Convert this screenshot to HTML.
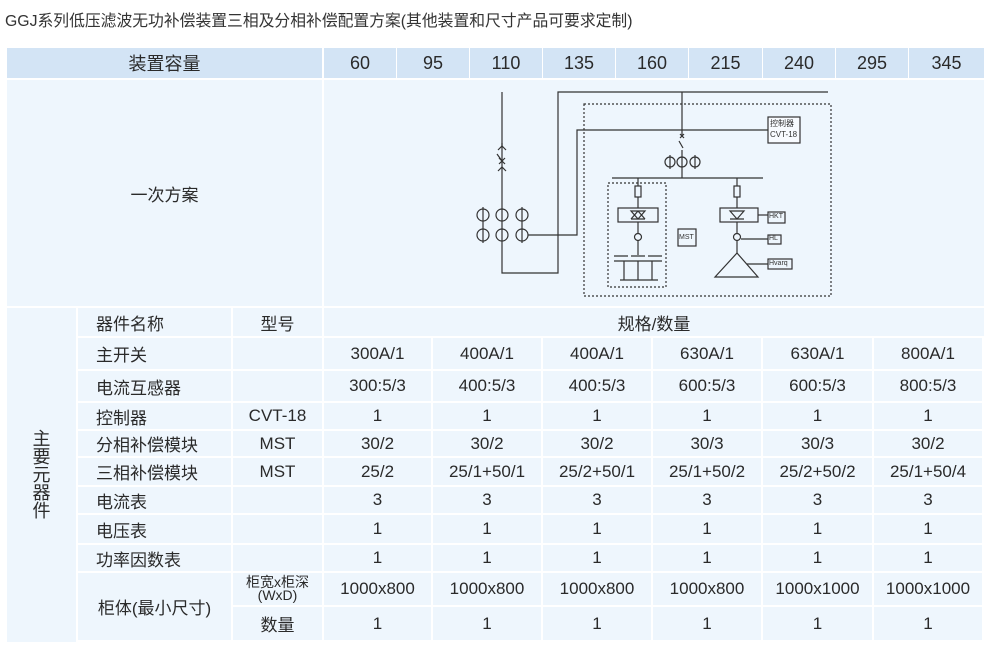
<!DOCTYPE html>
<html><head><meta charset="utf-8"><style>
body{margin:0;width:1000px;height:652px;background:#fff;position:relative;overflow:hidden;font-family:"Liberation Sans","Noto Sans CJK SC",sans-serif;color:#2a2a2a}
.c{position:absolute;background:#eef6fd;display:flex;align-items:center;justify-content:center;font-size:17px;box-sizing:border-box;white-space:nowrap}
.h{background:#d3e4f5;font-size:18px}
.l{justify-content:flex-start;padding-left:18px}
</style></head><body>
<div style="position:absolute;left:5px;top:8px;font-size:15.8px;color:#333">GGJ系列低压滤波无功补偿装置三相及分相补偿配置方案(其他装置和尺寸产品可要求定制)</div>

<div class="c h" style="left:7px;top:48px;width:315px;height:30px">装置容量</div>
<div class="c h" style="left:324px;top:48px;width:72px;height:30px">60</div>
<div class="c h" style="left:397px;top:48px;width:72px;height:30px">95</div>
<div class="c h" style="left:470px;top:48px;width:72px;height:30px">110</div>
<div class="c h" style="left:543px;top:48px;width:72px;height:30px">135</div>
<div class="c h" style="left:616px;top:48px;width:72px;height:30px">160</div>
<div class="c h" style="left:689px;top:48px;width:73px;height:30px">215</div>
<div class="c h" style="left:763px;top:48px;width:72px;height:30px">240</div>
<div class="c h" style="left:836px;top:48px;width:72px;height:30px">295</div>
<div class="c h" style="left:909px;top:48px;width:75px;height:30px">345</div>

<div class="c" style="left:7px;top:80px;width:315px;height:226px">一次方案</div>
<div class="c" style="left:324px;top:80px;width:660px;height:226px"></div>

<div class="c" style="left:7px;top:308px;width:69px;height:334px;flex-direction:column;line-height:18px;font-size:18px">主<br>要<br>元<br>器<br>件</div>
<div id="rows"></div>

<svg style="position:absolute;left:0;top:0" width="1000" height="652" fill="none" stroke="#333" stroke-width="1.2">
<polyline points="502,92 502,273 558,273 558,92 828,92"/>
<line x1="502" y1="143" x2="502" y2="147"/>
<path d="M498,150 L502,146 L506,150 M498,171 L502,167 L506,171"/>
<line x1="499" y1="158" x2="505" y2="164"/><line x1="505" y1="158" x2="499" y2="164"/>
<line x1="502" y1="161" x2="497" y2="154"/>
<g>
<circle cx="483" cy="215" r="6"/><circle cx="502" cy="215" r="6"/><circle cx="522" cy="215" r="6"/>
<circle cx="483" cy="235" r="6"/><circle cx="502" cy="235" r="6"/><circle cx="522" cy="235" r="6"/>
<line x1="483" y1="207" x2="483" y2="243"/><line x1="522" y1="207" x2="522" y2="243"/>
</g>
<polyline points="528,235 577,235 577,130 768,130"/>
<rect x="768" y="117" width="32" height="26" fill="#f8fbff"/>
<rect x="584" y="104" width="247" height="192" stroke-dasharray="2,2"/>
<rect x="608" y="183" width="58" height="104" stroke-dasharray="2,2"/>
<line x1="682" y1="92" x2="682" y2="136"/>
<line x1="680" y1="134" x2="684" y2="138"/><line x1="684" y1="134" x2="680" y2="138"/>
<line x1="679" y1="141" x2="683" y2="148"/>
<line x1="682" y1="150" x2="682" y2="178"/>
<circle cx="670" cy="162" r="5"/><circle cx="682" cy="162" r="5"/><circle cx="695" cy="162" r="5"/>
<line x1="670" y1="155" x2="670" y2="169"/><line x1="695" y1="155" x2="695" y2="169"/>
<line x1="612" y1="178" x2="763" y2="178"/>
<line x1="638" y1="178" x2="638" y2="255"/>
<rect x="635" y="186" width="6" height="11" fill="#eef6fd"/>
<rect x="618" y="208" width="40" height="14" fill="#eef6fd"/>
<path d="M631,211 L645,211 L638,219 Z M631,219 L645,219 M638,211 L631,219 M638,211 L645,219"/>
<circle cx="638" cy="237" r="3.5" fill="#eef6fd"/>
<path d="M614,256 L628,256 M631,256 L645,256 M648,256 L662,256 M614,261 L662,261 M624,261 L624,280 M638,261 L638,280 M652,261 L652,280 M620,280 L658,280"/>
<line x1="737" y1="178" x2="737" y2="253"/>
<rect x="734" y="186" width="6" height="11" fill="#eef6fd"/>
<rect x="720" y="208" width="38" height="14" fill="#eef6fd"/>
<path d="M730,211 L744,211 L737,219 Z M730,219 L744,219"/>
<line x1="758" y1="215" x2="768" y2="215"/>
<rect x="768" y="212" width="17" height="11"/>
<circle cx="737" cy="237" r="3.5" fill="#eef6fd"/>
<line x1="741" y1="239" x2="768" y2="239"/>
<rect x="768" y="235" width="13" height="9"/>
<path d="M737,253 L715,277 L758,277 Z" />
<line x1="747" y1="264" x2="768" y2="264"/>
<rect x="768" y="259" width="24" height="10"/>
<rect x="678" y="229" width="18" height="17"/>
</svg>
<div style="position:absolute;left:770px;top:118px;font-size:8px;line-height:11px;color:#333">控制器<br>CVT-18</div>
<div style="position:absolute;left:769px;top:213px;font-size:7px;color:#333">HKT</div>
<div style="position:absolute;left:769px;top:235px;font-size:7px;color:#333">HL</div>
<div style="position:absolute;left:769px;top:260px;font-size:7px;color:#333">Hvarq</div>
<div style="position:absolute;left:679px;top:234px;font-size:7px;color:#333">MST</div>

<script>
var R=[308,338,371,403,431,458,487,515,545,573,607,642];
var X=[324,433,543,653,763,874,984];
var d=[
["器件名称","型号",null],
["主开关","",["300A/1","400A/1","400A/1","630A/1","630A/1","800A/1"]],
["电流互感器","",["300:5/3","400:5/3","400:5/3","600:5/3","600:5/3","800:5/3"]],
["控制器","CVT-18",["1","1","1","1","1","1"]],
["分相补偿模块","MST",["30/2","30/2","30/2","30/3","30/3","30/2"]],
["三相补偿模块","MST",["25/2","25/1+50/1","25/2+50/1","25/1+50/2","25/2+50/2","25/1+50/4"]],
["电流表","",["3","3","3","3","3","3"]],
["电压表","",["1","1","1","1","1","1"]],
["功率因数表","",["1","1","1","1","1","1"]],
["","柜宽x柜深<br>(WxD)",["1000x800","1000x800","1000x800","1000x800","1000x1000","1000x1000"]],
["","数量",["1","1","1","1","1","1"]]];
var h="";
function cell(x,y,w,hh,t,cls,st){h+='<div class="c '+(cls||"")+'" style="left:'+x+'px;top:'+y+'px;width:'+w+'px;height:'+hh+'px;'+(st||"")+'">'+t+'</div>';}
for(var i=0;i<d.length;i++){var y=R[i],hh=R[i+1]-R[i]-2;
 if(i<9)cell(78,y,153,hh,d[i][0],"l");
 var st=i==9?"font-size:14px;line-height:13px;text-align:center":"";
 cell(233,y,89,hh,d[i][1],"",st);
 if(d[i][2]===null)cell(324,y,660,hh,"规格/数量");
 else for(var j=0;j<6;j++)cell(X[j],y,X[j+1]-X[j]-2,hh,d[i][2][j]);}
cell(78,R[9],153,R[11]-R[9]-2,"柜体(最小尺寸)","");
document.getElementById("rows").outerHTML=h;
</script>
</body></html>
